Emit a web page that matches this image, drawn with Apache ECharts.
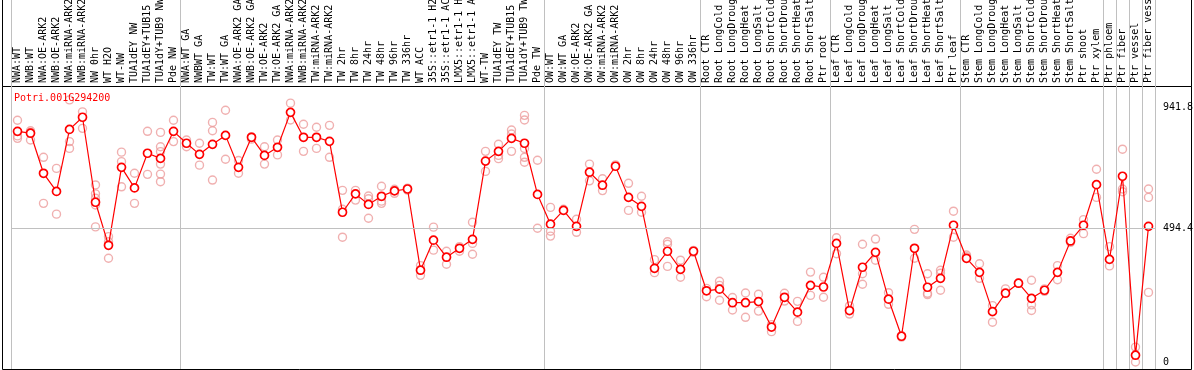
<!DOCTYPE html>
<html>
<head>
<meta charset="utf-8">
<script src="https://cdn.jsdelivr.net/npm/echarts@6/dist/echarts.min.js"></script>
<style>
html,body{margin:0;padding:0;background:#fff;}
#container{width:1194px;height:370px;}
</style>
</head>
<body>
<div id="container"></div>
<script>
var categories = ['NWA:WT','NWB:WT','NWA:OE-ARK2','NWB:OE-ARK2','NWA:miRNA-ARK2','NWB:miRNA-ARK2','NW 0hr','WT H2O','WT-NW','TUA1dEY NW','TUA1dEY+TUB15 NW','TUA1dY+TUB9 NW','Pde NW',
  'NWA:WT GA','NWBWT GA','TW:WT','TW:WT GA','NWA:OE-ARK2 GA','NWB:OE-ARK2 GA','TW:OE-ARK2','TW:OE-ARK2 GA','NWA:miRNA-ARK2','NWB:miRNA-ARK2','TW:miRNA-ARK2','TW:miRNA-ARK2','TW 2hr','TW 8hr','TW 24hr','TW 48hr','TW 96hr','TW 336hr','WT ACC','35S::etr1-1 H2O','35S::etr1-1 ACC','LMX5::etr1-1 H2O','LMX5::etr1-1 ACC','WT-TW','TUA1dEY TW','TUA1dEY+TUB15 TW','TUA1dY+TUB9 TW','Pde TW',
  'OW:WT','OW:WT GA','OW:OE-ARK2','OW:OE-ARK2 GA','OW:miRNA-ARK2','OW:miRNA-ARK2','OW 2hr','OW 8hr','OW 24hr','OW 48hr','OW 96hr','OW 336hr',
  'Root CTR','Root LongCold','Root LongDrought','Root LongHeat','Root LongSalt','Root ShortCold','Root ShortDrought','Root ShortHeat','Root ShortSalt','Ptr root',
  'Leaf CTR','Leaf LongCold','Leaf LongDrought','Leaf LongHeat','Leaf LongSalt','Leaf ShortCold','Leaf ShortDrought','Leaf ShortHeat','Leaf ShortSalt','Ptr leaf',
  'Stem CTR','Stem LongCold','Stem LongDrought','Stem LongHeat','Stem LongSalt','Stem ShortCold','Stem ShortDrought','Stem ShortHeat','Stem ShortSalt','Ptr shoot','Ptr xylem',
  'Ptr phloem','Ptr fiber','Ptr vessel','Ptr fiber vessel'];

// first category of each group (grey separators)
var groupStarts = [0, 13, 41, 53, 63, 73, 84, 85, 86, 87];

var yTicks = [0, 494.4, 941.8];

var mainValues = [852, 845, 697, 630, 859, 904, 590, 431, 719, 643, 771, 752, 852,
  808, 767, 804, 837, 719, 830, 763, 793, 922, 830, 830, 815, 553, 621, 582, 612, 632, 639, 339, 450, 387, 420, 453, 742, 778, 826, 808, 619,
  509, 560, 501, 701, 653, 723, 608, 575, 346, 409, 342, 409,
  263, 269, 219, 219, 223, 129, 239, 184, 283, 277,
  438, 190, 350, 405, 232, 95, 420, 276, 309, 505,
  383, 331, 186, 254, 291, 235, 265, 331, 447, 505, 655,
  379, 686, 25, 501];

var replicates = [
  [893, 835, 826], [854, 848, 820], [756, 586], [715, 546], [968, 814, 789], [924, 863],
  [654, 621, 605, 580, 499], [463, 444, 383], [775, 740, 647], [697, 586], [852, 693],
  [848, 795, 777, 731, 694, 666], [893, 814],
  [820, 795], [808, 727], [885, 854, 672], [930, 749], [744, 697], [832, 823], [795, 731],
  [820, 765], [956, 894], [878, 778], [867, 789], [874, 756], [634, 564, 461], [634, 598],
  [613, 603, 531], [649, 594, 586], [638, 623], [642, 635], [356, 320], [498, 413], [409, 361],
  [426, 409], [516, 438, 398], [778, 704], [804, 763, 751], [857, 842, 778],
  [911, 894, 789, 756, 738], [745, 494],
  [571, 483, 465], [564], [527, 479], [731, 669], [677, 633], [728], [660, 560], [612, 553],
  [378, 330], [444, 435, 353], [376, 313], [412, 405],
  [272, 241], [298, 283, 228], [238, 192], [255, 165], [250, 188], [138, 112], [254, 225],
  [224, 150], [332, 246], [313, 239],
  [459, 400], [207, 177], [435, 326, 287], [454, 376], [256, 213], [98, 92], [490, 383],
  [326, 254, 249], [339, 328, 265], [557, 461],
  [395, 389], [363, 309], [208, 147], [270], [291], [302, 211, 190], [270, 261], [356, 304],
  [457, 442], [526, 474], [712, 608],
  [426, 355], [786, 639, 629], [55, 0], [639, 608, 257]];

var mono = 'DejaVu Sans Mono';

var repPoints = [];
for (var i = 0; i < replicates.length; i++) {
  for (var j = 0; j < replicates[i].length; j++) {
    repPoints.push([i, replicates[i][j]]);
  }
}

var myChart = echarts.init(document.getElementById('container'));
var option = {
  animation: false,
  title: {
    text: 'Potri.001G294200',
    left: 9,
    top: 88,
    textStyle: {color: '#ff0000', fontFamily: mono, fontSize: 10, fontWeight: 'normal'}
  },
  grid: [
    {left: 2.5, right: 2.5, top: -1, height: 87.5, show: true, borderColor: '#000', borderWidth: 1, outerBoundsMode: 'none'},
    {left: 2.5, right: 2.5, top: 86.5, bottom: 0.5, show: true, borderColor: '#000', borderWidth: 1, outerBoundsMode: 'none'},
    {left: 11, width: 1144, top: 0, bottom: 1, outerBoundsMode: 'none'},
    {left: 11, width: 1144, top: 86, bottom: 1, outerBoundsMode: 'none'}
  ],
  xAxis: [
    {
      gridIndex: 2, type: 'category', data: categories, boundaryGap: true,
      axisLine: {show: false}, axisTick: {show: false}, axisLabel: {show: false},
      splitLine: {
        show: true,
        interval: function (idx) { return groupStarts.indexOf(idx) >= 0; },
        lineStyle: {color: '#c0c0c0', width: 1}
      }
    },
    {
      gridIndex: 3, type: 'category', data: categories, position: 'top', boundaryGap: true,
      axisLine: {show: false}, axisTick: {show: false}, splitLine: {show: false},
      axisLabel: {interval: 0, rotate: 90, margin: 3, align: 'left', verticalAlign: 'middle',
        fontFamily: mono, fontSize: 10, color: '#000'}
    }
  ],
  yAxis: [
    {gridIndex: 2, type: 'value', show: false},
    {
      gridIndex: 3, type: 'value', position: 'right', min: -25.9, max: 1019.4,
      axisLine: {show: false}, axisTick: {show: false}, splitLine: {show: false},
      axisLabel: {customValues: yTicks, margin: 8, fontFamily: mono, fontSize: 10, color: '#000',
        formatter: function (v) { return String(v); }}
    }
  ],
  series: [
    {
      name: 'replicates',
      type: 'scatter',
      xAxisIndex: 1, yAxisIndex: 1,
      data: repPoints,
      symbol: 'circle',
      symbolSize: 8,
      itemStyle: {color: 'rgba(0,0,0,0)', borderColor: '#ec9c9c', borderWidth: 1.4},
      z: 2,
      markLine: {
        silent: true,
        symbol: 'none',
        label: {show: false},
        lineStyle: {color: '#c0c0c0', type: 'solid', width: 1},
        data: [{yAxis: yTicks[1]}]
      }
    },
    {
      name: 'mean',
      type: 'line',
      xAxisIndex: 1, yAxisIndex: 1,
      data: mainValues,
      symbol: 'circle',
      symbolSize: 8,
      showAllSymbol: true,
      lineStyle: {color: '#ff0000', width: 1.2},
      itemStyle: {color: '#ffffff', borderColor: '#ff0000', borderWidth: 1.7},
      z: 3
    }
  ]
};
myChart.setOption(option);
</script>
</body>
</html>
